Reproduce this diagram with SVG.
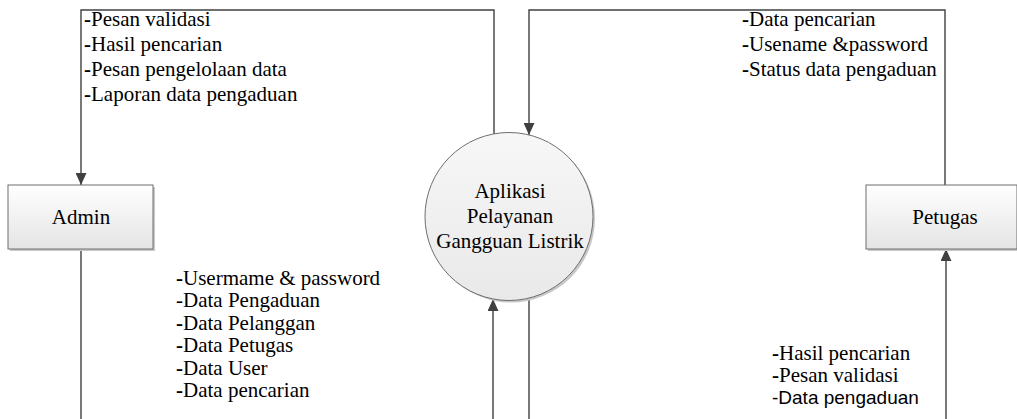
<svg xmlns="http://www.w3.org/2000/svg" width="1017" height="419" viewBox="0 0 1017 419">
  <defs>
    <linearGradient id="boxFill" x1="0" y1="0" x2="0" y2="1">
      <stop offset="0" stop-color="#ffffff"/>
      <stop offset="1" stop-color="#e4e4e4"/>
    </linearGradient>
    <linearGradient id="circleFill" x1="0" y1="0" x2="0" y2="1">
      <stop offset="0" stop-color="#f7f7f7"/>
      <stop offset="1" stop-color="#e9e9e9"/>
    </linearGradient>
    <marker id="arrow" markerUnits="userSpaceOnUse" markerWidth="12" markerHeight="11" refX="12" refY="5.5" orient="auto">
      <path d="M0,0 L12,5.5 L0,11 Z" fill="#404040"/>
    </marker>
  </defs>
  <style>
    .shadow { fill: #c8c8c8; }
    .box { fill: url(#boxFill); stroke: #6e6e6e; stroke-width: 1; }
    .proc { fill: url(#circleFill); stroke: #6e6e6e; stroke-width: 1; }
    .flow { fill: none; stroke: #404040; stroke-width: 1.4; }
    text { font-family: 'Liberation Serif', 'Times New Roman', serif; font-size: 21px; fill: #000; }
    .sans { font-family: 'Liberation Sans', Arial, sans-serif; font-size: 19px; }
    .title { text-anchor: middle; }
    .b { font-weight: bold; }
  </style>

  <!-- data flows -->
  <g id="connectors">
    <path class="flow" d="M494,134 V10 H81 V185" marker-end="url(#arrow)"/>
    <path class="flow" d="M945,185 V10 H529 V135" marker-end="url(#arrow)"/>
    <path class="flow" d="M81,249 V430 H493 V299" marker-end="url(#arrow)"/>
    <path class="flow" d="M529,298 V430 H946 V249" marker-end="url(#arrow)"/>
  </g>

  <!-- flow labels -->
  <g id="labels">
    <text x="84" y="26"><tspan class="b">-</tspan>Pesan validasi</text>
    <text x="84" y="51"><tspan class="b">-</tspan>Hasil pencarian</text>
    <text x="84" y="76"><tspan class="b">-</tspan>Pesan pengelolaan data</text>
    <text x="84" y="101"><tspan class="b">-</tspan>Laporan data pengaduan</text>

    <text x="742" y="26"><tspan class="b">-</tspan>Data pencarian</text>
    <text x="742" y="51"><tspan class="b">-</tspan>Usename &amp;password</text>
    <text x="742" y="76"><tspan class="b">-</tspan>Status data pengaduan</text>

    <text x="176" y="285"><tspan class="b">-</tspan>Usermame &amp; password</text>
    <text x="176" y="307">-Data Pengaduan</text>
    <text x="176" y="330"><tspan class="b">-</tspan>Data Pelanggan</text>
    <text x="176" y="352"><tspan class="b">-</tspan>Data Petugas</text>
    <text x="176" y="375"><tspan class="b">-</tspan>Data User</text>
    <text x="176" y="397"><tspan class="b">-</tspan>Data pencarian</text>

    <text x="772" y="360"><tspan class="b">-</tspan>Hasil pencarian</text>
    <text x="772" y="382"><tspan class="b">-</tspan>Pesan validasi</text>
    <text class="sans" x="772" y="404">-Data pengaduan</text>
  </g>

  <g id="admin">
    <rect class="shadow" x="10" y="187" width="145" height="64"/>
    <rect class="box" x="8" y="185" width="145" height="64"/>
    <text class="title" x="81" y="224">Admin</text>
  </g>

  <g id="aplikasi">
    <circle class="shadow" cx="511" cy="218.5" r="84"/>
    <circle class="proc" cx="509" cy="216.5" r="84"/>
    <text class="title" x="510" y="198">Aplikasi</text>
    <text class="title" x="510" y="223">Pelayanan</text>
    <text class="title" x="510" y="248">Gangguan Listrik</text>
  </g>

  <g id="petugas">
    <rect class="shadow" x="868" y="187" width="151" height="64"/>
    <rect class="box" x="866" y="185" width="151" height="64"/>
    <text class="title" x="945" y="224">Petugas</text>
  </g>
</svg>
